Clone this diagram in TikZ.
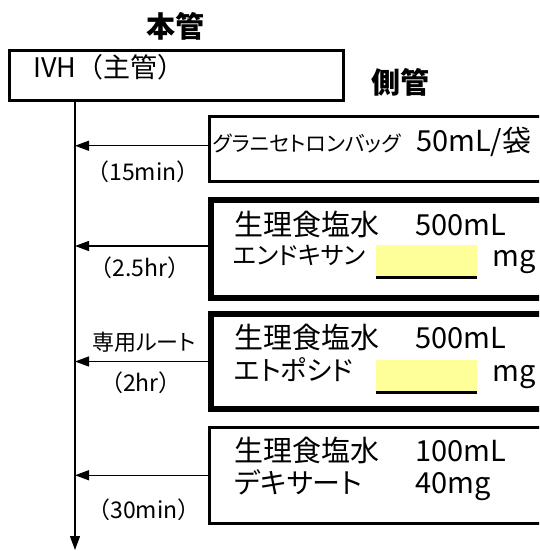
\documentclass[tikz,border=0pt]{standalone}
\usepackage{fontspec}
\setmainfont{Noto Sans CJK JP}
\newfontfamily\kana[RawFeature=+palt]{Noto Sans CJK JP}
\usetikzlibrary{arrows.meta}
\tikzset{
  txt/.style={inner sep=0pt, anchor=west, text height=0.8em, text depth=0.1em},
  big/.style={font=\fontsize{29}{32}\selectfont},
  mid/.style={font=\fontsize{23}{27}\selectfont},
  small/.style={font=\kana\fontsize{21}{24}\selectfont},
  kbig/.style={font=\kana\fontsize{27}{30}\selectfont},
  head/.style={font=\bfseries\fontsize{29}{32}\selectfont},
  thinbox/.style={draw, line width=2.5pt, inner sep=0pt, anchor=north west, minimum width=345pt},
  thickbox/.style={draw, line width=6pt, inner sep=0pt, anchor=north west, minimum width=345pt},
  feed/.style={line width=1.3pt, -{Triangle[length=14pt,width=10pt]}},
  blank/.style={fill={rgb,255:red,255;green,255;blue,153}, draw=none, inner sep=0pt, anchor=north west, minimum width=101pt, minimum height=32pt},
}
\begin{document}
\begin{tikzpicture}[x=1pt,y=-1pt]
\useasboundingbox (0,0) rectangle (539,551);
\clip (0,0) rectangle (539,551);
% titles
\node[head, inner sep=0pt] (hon) at (175,26) {本管};
\node[head, txt] (soku) at (371,90) {側管};
% main line box
\node[draw, line width=3pt, inner sep=0pt, anchor=north west, minimum width=334pt, minimum height=50pt] (ivh) at (8,49) {};
\node[font=\fontsize{27}{31}\selectfont, txt] (ivht) at (33,74) {IVH（主管）};
\coordinate (tx) at (75,0);
\coordinate (bot) at (75,550);
\draw[line width=1.3pt, -{Triangle[length=14pt,width=10pt]}] (ivh.south -| tx) -- (bot);
% side boxes
\node[thinbox, minimum height=65pt] (b1) at (208,115) {};
\node[thickbox, minimum height=98pt] (b2) at (208,197) {};
\node[thickbox, minimum height=95pt] (b3) at (208,311) {};
\node[thinbox, minimum height=96pt] (b4) at (208,426) {};
% box 1
\node[small, txt] (t1a) at (213,148) {グラニセトロンバッグ};
\node[big, txt] (t1b) at (416,148) {50mL/袋};
% box 2
\node[big, txt] (t2a) at (234,232) {生理食塩水};
\node[big, txt] (t2b) at (415,232) {500mL};
\node[font=\kana\fontsize{24.5}{30}\selectfont, txt] (t2c) at (233,261) {エンドキサン};
\node[blank] (y2) at (376,245) {};
\draw[line width=3pt] (y2.south west) -- (y2.south east);
\node[big, txt] (t2d) at (492,263) {mg};
% box 3
\node[big, txt] (t3a) at (234,345) {生理食塩水};
\node[big, txt] (t3b) at (415,345) {500mL};
\node[kbig, txt] (t3c) at (234,377) {エトポシド};
\node[blank] (y3) at (376,360) {};
\draw[line width=3pt] (y3.south west) -- (y3.south east);
\node[big, txt] (t3d) at (492,378) {mg};
% box 4
\node[big, txt] (t4a) at (234,458) {生理食塩水};
\node[big, txt] (t4b) at (415,458) {100mL};
\node[font=\kana\fontsize{28}{31}\selectfont, txt] (t4c) at (234,490) {デキサート};
\node[big, txt] (t4d) at (415,490) {40mg};
% feed arrows
\draw[feed] ([yshift=3pt]b1.west) -- ([yshift=3pt]b1.west -| tx);
\draw[feed] ([yshift=3pt]b2.west) -- ([yshift=3pt]b2.west -| tx);
\draw[feed] (b3.west) -- (b3.west -| tx);
\draw[feed] (b4.west) -- (b4.west -| tx);
% labels
\node[mid, inner sep=0pt] (l1) at (143,172) {（15min）};
\node[mid, inner sep=0pt] (l2) at (140,268) {（2.5hr）};
\node[font=\kana\fontsize{22}{26}\selectfont, inner sep=0pt] (l3a) at (144,342) {専用ルート};
\node[mid, inner sep=0pt] (l3) at (141,383) {（2hr）};
\node[mid, inner sep=0pt] (l4) at (144,510) {（30min）};
\end{tikzpicture}
\end{document}
